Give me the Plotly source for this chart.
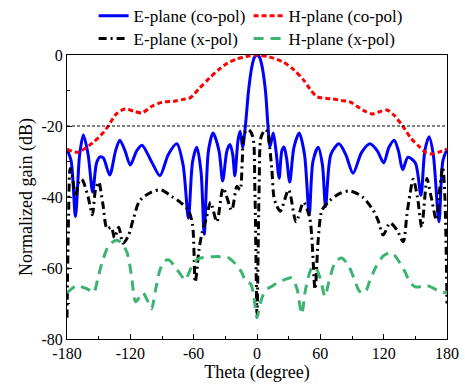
import plotly.graph_objects as go

# E-plane co-pol
e_co_theta = [-180, -176, -172, -168, -164.5, -160, -155.7, -152, -148.7, -145.6, -139.5, -134, -130, -125, -120,
              -114, -109, -100, -92, -84, -76, -70, -65, -61, -57, -53, -50, -46, -41.6, -36, -32.5, -28.5,
              -25.6, -23, -21, -18, -16, -13.6, -11, -8, -5, -2.5, 0, 2.5, 5, 8, 10.4, 12.3, 15.4, 18, 21,
              23.5, 25.6, 28, 31, 35, 40, 45, 49.5, 53, 58, 62, 65, 70, 77.7, 84, 91, 99, 107, 114, 120,
              125, 130, 134, 138, 143, 150, 155.3, 159, 163, 167, 172.4, 176, 180]
e_co_db = [-26.5, -30, -45.5, -28, -22.5, -28, -38.6, -30.4, -28.7, -29, -33.8, -27, -24, -27, -31,
           -27, -25.4, -30, -34, -28, -25, -31, -46, -30, -26, -33, -50.5, -27, -22, -27, -35.5, -27,
           -25.2, -28, -34, -24, -21.5, -26, -20, -10, -3.5, -0.7, 0, -0.7, -3.5, -10, -20, -25.8, -22, -27, -34.7,
           -27, -25.9, -29, -35.8, -26, -22, -28, -45, -30, -26, -31, -42.7, -28, -25, -28, -33.3, -27.5, -25, -27, -30.4,
           -26, -24, -27, -32.3, -28.8, -30.4, -39.5, -27, -23, -28, -47, -30, -26.5]

# H-plane co-pol
h_co_theta = [-180, -170, -156, -146, -141, -133, -125, -117, -109, -100, -90, -78, -70, -63, -55, -45, -35,
              -28, -20, -10, 0, 12, 25, 35, 44, 50, 57, 65, 72, 80, 88, 95, 102, 109, 116, 123, 130, 138,
              146, 154, 160, 166, 173, 180]
h_co_db = [-26.5, -27.4, -24.8, -22, -20, -16.5, -15.2, -15.8, -16.3, -14.5, -13.3, -13, -12.5, -12, -9.5, -6.5, -3.8,
           -2.3, -1.2, -0.4, 0, -0.6, -2, -4.2, -7, -9.5, -11.8, -12.2, -12.4, -12.8, -13.2, -14.5, -15.8, -16.6, -16,
           -15.5, -17, -20, -23.5, -25.9, -27.5, -27.9, -27.3, -26.5]

# E-plane x-pol
e_x_theta = [-180, -178.5, -177, -175, -172, -169, -166, -160, -156, -153, -150, -146, -142, -138, -135, -131,
             -127, -122, -117, -111, -100, -91, -80, -73, -65, -61, -58.5, -55, -52, -48, -44, -38, -32, -24,
             -19, -16, -14, -12, -8, -4, -2, 0, 2, 4, 8, 10, 12, 14, 16, 18, 22, 30, 37, 44, 50, 55, 58,
             61.6, 69, 78.6, 88, 100, 110, 114.6, 119.6, 126, 132.6, 138.5, 142, 145, 148, 152, 156, 159,
             161, 165, 170, 173, 176, 178, 180]
e_x_db = [-74, -45, -32, -34, -40, -36, -35, -40, -45, -38, -35.8, -42, -49, -48.5, -51.5, -48.5,
          -53, -51, -46, -41, -38.6, -38, -40, -41.4, -43.7, -48, -64, -55, -50, -46, -41.5, -47, -37.5, -43.7,
          -37, -38, -30, -22, -21, -23, -38, -73, -38, -23, -21, -21.7, -26, -32, -40, -42, -44, -38, -47, -41.5, -46, -66, -52,
          -43.7, -41, -39, -38.3, -40, -43.7, -46.5, -50.7, -47.3, -49.3, -52.6, -45, -39, -35, -40, -48.5, -40,
          -34.8, -40, -46.5, -38, -31.5, -40, -70]

# H-plane x-pol
h_x_theta = [-180, -174, -170, -166, -160, -155, -150, -146, -140, -133, -128, -123, -119, -115, -111, -108, -104,
             -100, -96, -92, -88, -84, -78, -72, -68, -64, -60, -55, -50, -40, -30, -26, -20, -15, -10, -6, -3,
             0, 3, 6, 9.4, 15, 20, 25, 33, 38, 42.3, 46, 51.8, 55, 60, 64.4, 68, 74, 80, 86, 92, 97, 102, 107,
             113, 120, 127.6, 133, 140, 145, 150, 156, 161, 166, 172, 180]
h_x_db = [-67, -65.5, -64.8, -65.3, -66, -67, -62, -57.7, -53.5, -52.2, -53, -55.8, -62, -69.5, -68, -67, -69,
          -71.5, -66, -60.6, -58.2, -57.7, -59.5, -62, -63.4, -61, -58.5, -57.3, -57, -56.8, -56.9, -57.3, -59, -61, -64, -64.5, -68,
          -74, -70, -67.5, -66, -65, -64, -63.4, -62.8, -66, -73, -66, -60, -59.7, -63, -68, -64, -58.5, -57.2, -59, -63, -66.5, -67, -63.5,
          -59.5, -56.5, -55.7, -57.5, -61, -64, -65.3, -65.2, -65, -65.5, -66.5, -67]

x_ticks = [-180, -120, -60, 0, 60, 120, 180]
y_ticks = [-80, -60, -40, -20, 0]
ref_level = -20

FONT = "Times New Roman"

fig = go.Figure()
fig.add_trace(go.Scatter(x=e_co_theta, y=e_co_db, mode="lines", name="E-plane (co-pol)", legend="legend",
                         line=dict(color="#0000FF", width=3, shape="spline", smoothing=0.8)))
fig.add_trace(go.Scatter(x=h_co_theta, y=h_co_db, mode="lines", name="H-plane (co-pol)", legend="legend",
                         line=dict(color="#FF0000", width=3, dash="5px,3px", shape="spline", smoothing=0.8)))
fig.add_trace(go.Scatter(x=e_x_theta, y=e_x_db, mode="lines", name="E-plane (x-pol)", legend="legend2",
                         line=dict(color="#000000", width=3, dash="8px,4px,2px,4px", shape="spline", smoothing=0.8)))
fig.add_trace(go.Scatter(x=h_x_theta, y=h_x_db, mode="lines", name="H-plane (x-pol)", legend="legend2",
                         line=dict(color="#3CB371", width=3, dash="10px,7px", shape="spline", smoothing=0.8)))

fig.add_shape(type="line", xref="paper", x0=0, x1=1, yref="y", y0=ref_level, y1=ref_level,
              line=dict(color="black", width=1, dash="3px,2px"))

leg_common = dict(orientation="h", xanchor="left", yanchor="top", entrywidth=110,
                  font=dict(family=FONT, size=17, color="black"), bgcolor="rgba(0,0,0,0)",
                  itemwidth=30)

axis_common = dict(ticks="inside", ticklen=5, tickcolor="black", showline=True, linecolor="black",
                   linewidth=1, mirror=True, showgrid=False, zeroline=False,
                   tickfont=dict(family=FONT, size=16, color="black"))

fig.update_layout(
    width=465, height=387,
    margin=dict(l=67, r=18, t=55, b=48, autoexpand=False),
    paper_bgcolor="white", plot_bgcolor="white",
    font=dict(family=FONT, size=16, color="black"),
    showlegend=True,
    legend=dict(x=0.07, y=1.2, **leg_common),
    legend2=dict(x=0.07, y=1.12, **leg_common),
    xaxis=dict(range=[-180, 180], tickvals=x_ticks, ticktext=[str(v) for v in x_ticks],
               minor=dict(ticks="inside", dtick=30, ticklen=3, tickcolor="black", showgrid=False),
               title=dict(text="Theta (degree)", font=dict(family=FONT, size=18, color="black"), standoff=3),
               **axis_common),
    yaxis=dict(range=[-80, 0], tickvals=y_ticks, ticktext=[str(v) for v in y_ticks],
               minor=dict(ticks="inside", dtick=10, ticklen=3, tickcolor="black", showgrid=False),
               title=dict(text="Normalized gain (dB)", font=dict(family=FONT, size=18, color="black"), standoff=4),
               **axis_common),
)

fig.write_html("out.html")
